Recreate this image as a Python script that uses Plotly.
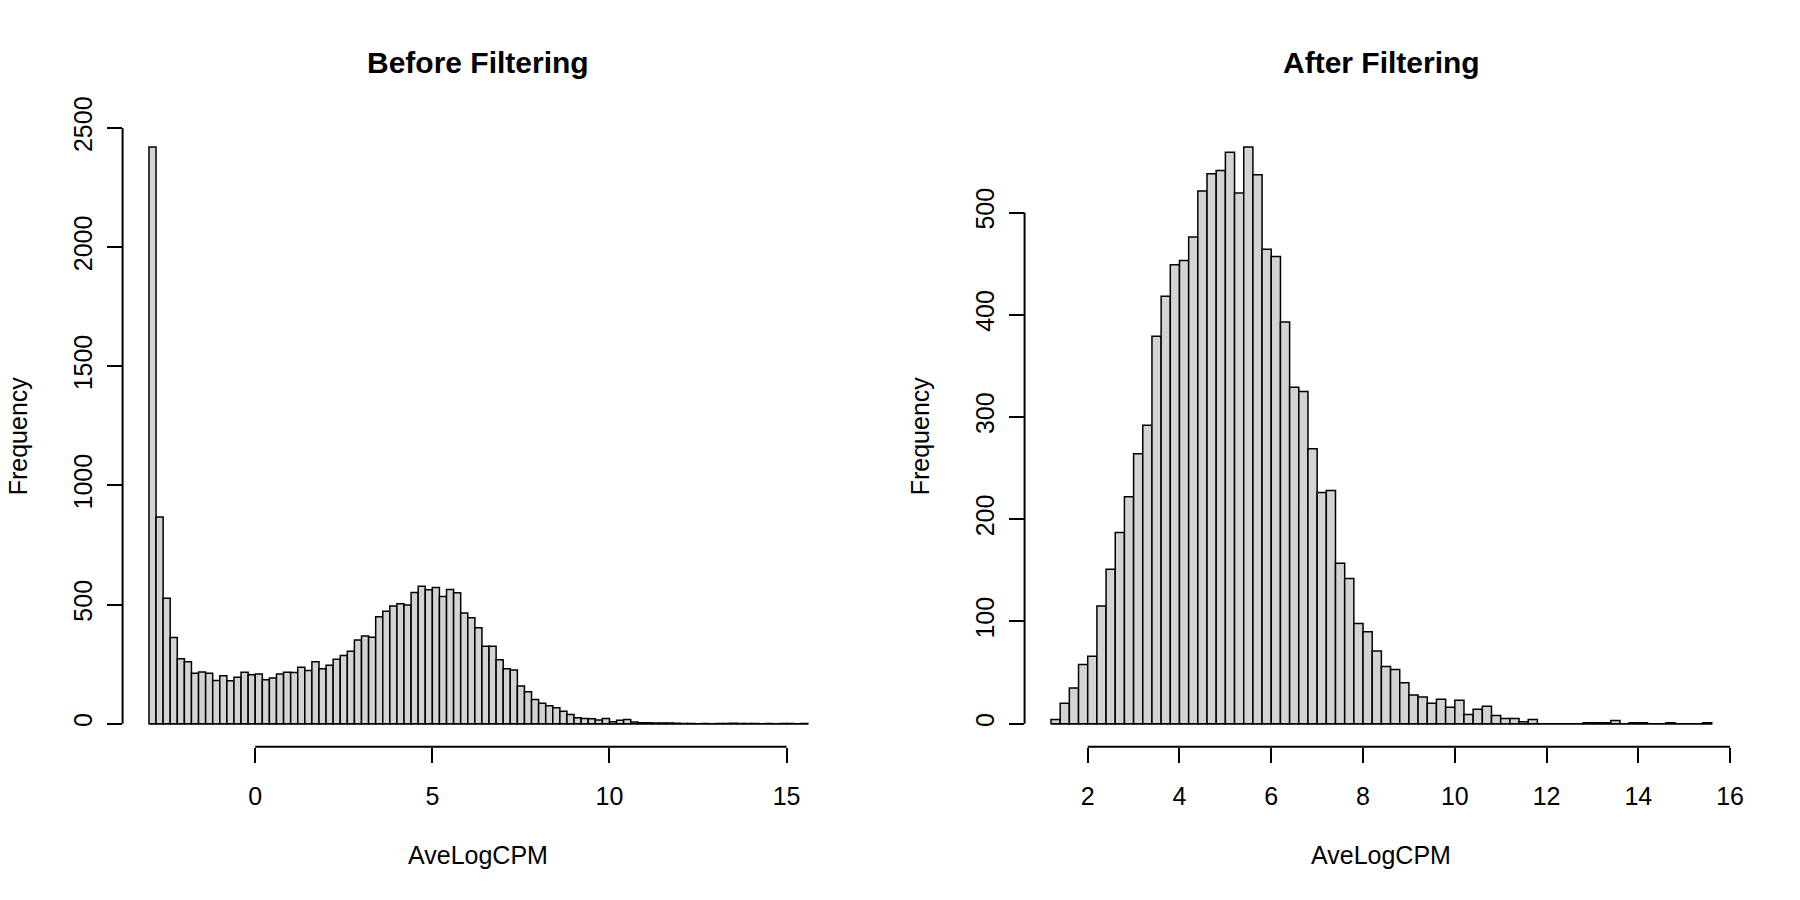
import numpy as np
import plotly.graph_objects as go

# histogram counts, breaks every 0.2 AveLogCPM
bin_width = 0.2

before_start = -3.0
before_counts = [2420, 867, 526, 362, 272, 260, 212, 217, 212, 181,
                 201, 180, 195, 216, 205, 208, 184, 192, 208, 216,
                 215, 237, 223, 260, 231, 245, 270, 286, 304, 351,
                 368, 363, 449, 472, 494, 503, 498, 551, 577, 562,
                 571, 534, 563, 549, 465, 445, 403, 325, 325, 268,
                 230, 225, 158, 134, 101, 86, 75, 67, 52, 38,
                 25, 22, 21, 15, 22, 8, 14, 17, 7, 4,
                 4, 3, 3, 3, 2, 1, 1, 0, 1, 0,
                 1, 1, 2, 1, 1, 1, 0, 1, 0, 1,
                 1, 0, 1]
before_xticks = [0, 5, 10, 15]
before_yticks = [0, 500, 1000, 1500, 2000, 2500]

after_start = 1.2
after_counts = [4, 20, 35, 58, 66, 115, 151, 187, 222, 264,
                292, 379, 418, 449, 453, 476, 521, 538, 541, 559,
                519, 564, 537, 464, 457, 393, 329, 325, 269, 226,
                228, 157, 142, 98, 90, 71, 56, 53, 40, 28,
                26, 20, 24, 16, 23, 9, 14, 17, 8, 5,
                5, 2, 4, 0, 0, 0, 0, 0, 1, 1,
                1, 3, 0, 1, 1, 0, 0, 1, 0, 0,
                0, 1]
after_xticks = [2, 4, 6, 8, 10, 12, 14, 16]
after_yticks = [0, 100, 200, 300, 400, 500]

W, H = 1800, 900
FONT = "Liberation Sans"

# plot regions in pixels (like R's mfrow=c(1,2) with default mar)
panels = [
    dict(n="", left=123, right=837, title="Before Filtering",
         start=before_start, counts=before_counts, xticks=before_xticks, yticks=before_yticks),
    dict(n="2", left=1028, right=1744, title="After Filtering",
         start=after_start, counts=after_counts, xticks=after_xticks, yticks=after_yticks),
]
top_px, bottom_px = 100, 742
title_px, xlab_px = 37, 854

fig = go.Figure()

for p in panels:
    counts = np.array(p["counts"])
    edges = p["start"] + bin_width * np.arange(len(counts) + 1)
    centers = edges[:-1] + bin_width / 2
    xa, ya = "x" + p["n"], "y" + p["n"]

    # baseline under the bars (R draws empty bins as a flat line)
    fig.add_trace(go.Scatter(x=[edges[0], edges[-1]], y=[0, 0], mode="lines",
                             line=dict(color="black", width=1.5),
                             xaxis=xa, yaxis=ya, showlegend=False, hoverinfo="skip"))
    fig.add_trace(go.Bar(x=centers, y=counts, width=bin_width,
                         marker=dict(color="#D3D3D3", line=dict(color="black", width=1.5)),
                         xaxis=xa, yaxis=ya, showlegend=False))

    xspan = edges[-1] - edges[0]
    ymax = counts.max()
    dom_x = [p["left"] / W, p["right"] / W]
    dom_y = [1 - bottom_px / H, 1 - top_px / H]

    axis_common = dict(ticks="outside", ticklen=15, tickwidth=2, tickcolor="black",
                       showgrid=False, zeroline=False, showline=False,
                       tickfont=dict(family=FONT, size=25, color="black"))
    fig.update_layout({
        "xaxis" + p["n"]: dict(domain=dom_x, anchor=ya,
                               range=[edges[0] - 0.04 * xspan, edges[-1] + 0.04 * xspan],
                               tickvals=p["xticks"], ticklabelstandoff=12, **axis_common),
        "yaxis" + p["n"]: dict(domain=dom_y, anchor=xa,
                               range=[-0.04 * ymax, ymax * 1.04],
                               tickvals=p["yticks"], tickangle=-90, ticklabelstandoff=5,
                               **axis_common),
    })

    # R style axis lines, only from first to last tick
    fig.add_shape(type="line", xref=xa, yref=ya + " domain",
                  x0=p["xticks"][0], x1=p["xticks"][-1], y0=0, y1=0,
                  line=dict(color="black", width=2))
    fig.add_shape(type="line", xref=xa + " domain", yref=ya,
                  x0=0, x1=0, y0=p["yticks"][0], y1=p["yticks"][-1],
                  line=dict(color="black", width=2))

    fig.add_annotation(text="<b>" + p["title"] + "</b>", xref=xa + " domain", x=0.5,
                       yref="paper", y=1 - title_px / H, yanchor="middle", showarrow=False,
                       font=dict(family=FONT, size=30, color="black"))
    fig.add_annotation(text="AveLogCPM", xref=xa + " domain", x=0.5,
                       yref="paper", y=1 - xlab_px / H, yanchor="middle", showarrow=False,
                       font=dict(family=FONT, size=25, color="black"))
    fig.add_annotation(text="Frequency", xref="paper", x=(p["left"] - 105) / W,
                       xanchor="center", yref=ya + " domain", y=0.5, textangle=-90,
                       showarrow=False, font=dict(family=FONT, size=25, color="black"))

fig.update_layout(width=W, height=H, margin=dict(l=0, r=0, t=0, b=0),
                  paper_bgcolor="white", plot_bgcolor="white",
                  font=dict(family=FONT, color="black"))

# no default 8px page margin, so the figure sits exactly in the window
fig.write_html("out.html", config={"displayModeBar": False},
               post_script="document.body.style.margin='0px';")
